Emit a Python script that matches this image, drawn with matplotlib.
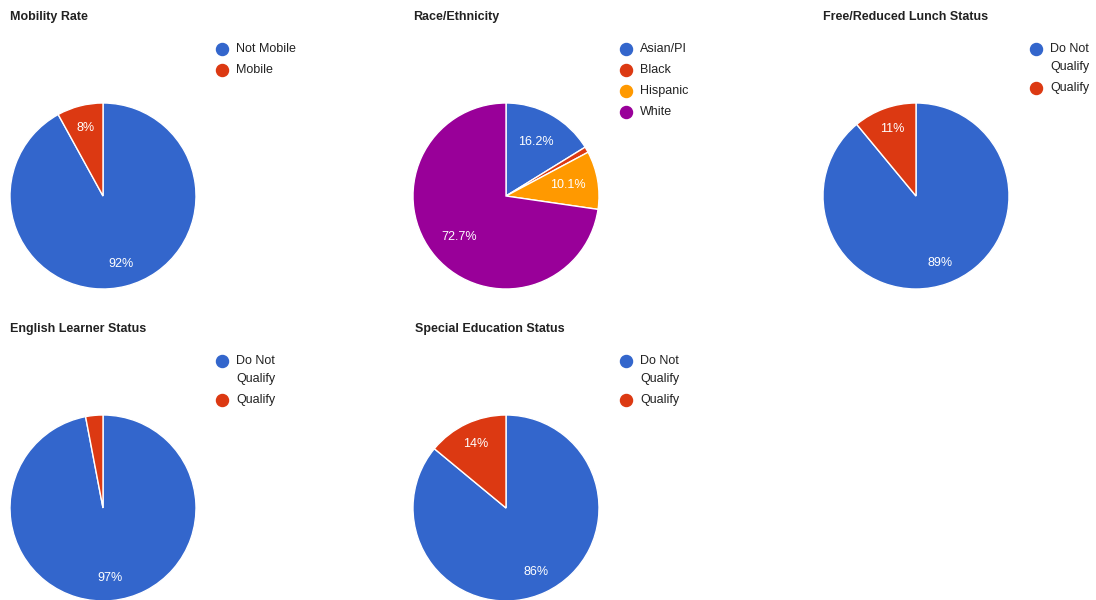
import matplotlib.pyplot as plt

plt.rcParams['font.family'] = ['Liberation Sans', 'DejaVu Sans']

BLUE = '#3366cc'
RED = '#dc3912'
ORANGE = '#ff9900'
PURPLE = '#990099'

# chart data
mobility_labels = ['Not Mobile', 'Mobile']
mobility_vals = [92, 8]

race_labels = ['Asian/PI', 'Black', 'Hispanic', 'White']
race_vals = [16.2, 1.0, 10.1, 72.7]

lunch_labels = ['Do Not\nQualify', 'Qualify']
lunch_vals = [89, 11]

el_labels = ['Do Not\nQualify', 'Qualify']
el_vals = [97, 3]

sped_labels = ['Do Not\nQualify', 'Qualify']
sped_vals = [86, 14]

W, H = 1096, 600
fig = plt.figure(figsize=(W / 100, H / 100), dpi=100)

# overlay in pixel coordinates for titles and legends
ov = fig.add_axes([0, 0, 1, 1])
ov.set_xlim(0, W)
ov.set_ylim(H, 0)
ov.axis('off')


def draw_pie(cx, cy, r, vals, colors, fmt, pctdist):
    ax = fig.add_axes([(cx - r) / W, (H - cy - r) / H, 2 * r / W, 2 * r / H])

    # small slices get no label
    def autopct(p):
        return '' if p < 5 else fmt % p

    ax.pie(vals, colors=colors, startangle=90, counterclock=False,
           wedgeprops=dict(edgecolor='white', linewidth=1),
           autopct=autopct, pctdistance=pctdist,
           textprops=dict(color='white', fontsize=9))
    ax.set_xlim(-1, 1)
    ax.set_ylim(-1, 1)
    ax.axis('off')
    return ax


charts = [
    (103, 196, mobility_vals, mobility_labels, [BLUE, RED], 'Mobility Rate', '%.0f%%', 0.76, 10, 17, 222, 49),
    (506, 196, race_vals, race_labels, [BLUE, RED, ORANGE, PURPLE], 'Race/Ethnicity', '%.1f%%', 0.67, 413, 17, 626, 49),
    (916, 196, lunch_vals, lunch_labels, [BLUE, RED], 'Free/Reduced Lunch Status', '%.0f%%', 0.76, 823, 17, 1036, 49),
    (103, 508, el_vals, el_labels, [BLUE, RED], 'English Learner Status', '%.0f%%', 0.76, 10, 329, 222, 361),
    (506, 508, sped_vals, sped_labels, [BLUE, RED], 'Special Education Status', '%.0f%%', 0.76, 415, 329, 626, 361),
]

for cx, cy, vals, labels, cols, title, fmt, pd_, tx, ty, lx, ly in charts:
    draw_pie(cx, cy, 93, vals, cols, fmt, pd_)
    ov.text(tx, ty, title, fontsize=9, fontweight='bold', ha='left', va='center',
            color='#222222')

    # legend, one dot per entry, wrapped lines 18px apart
    yy = ly
    for lab, col in zip(labels, cols):
        ov.scatter([lx], [yy], s=75, color=col, zorder=3)
        lines = lab.split('\n')
        for i, line in enumerate(lines):
            ov.text(lx + 14, yy + 18 * i, line, fontsize=9, color='#222222',
                    ha='left', va='center')
        yy += 21 + 18 * (len(lines) - 1)

fig.savefig('out.png', dpi=100)
